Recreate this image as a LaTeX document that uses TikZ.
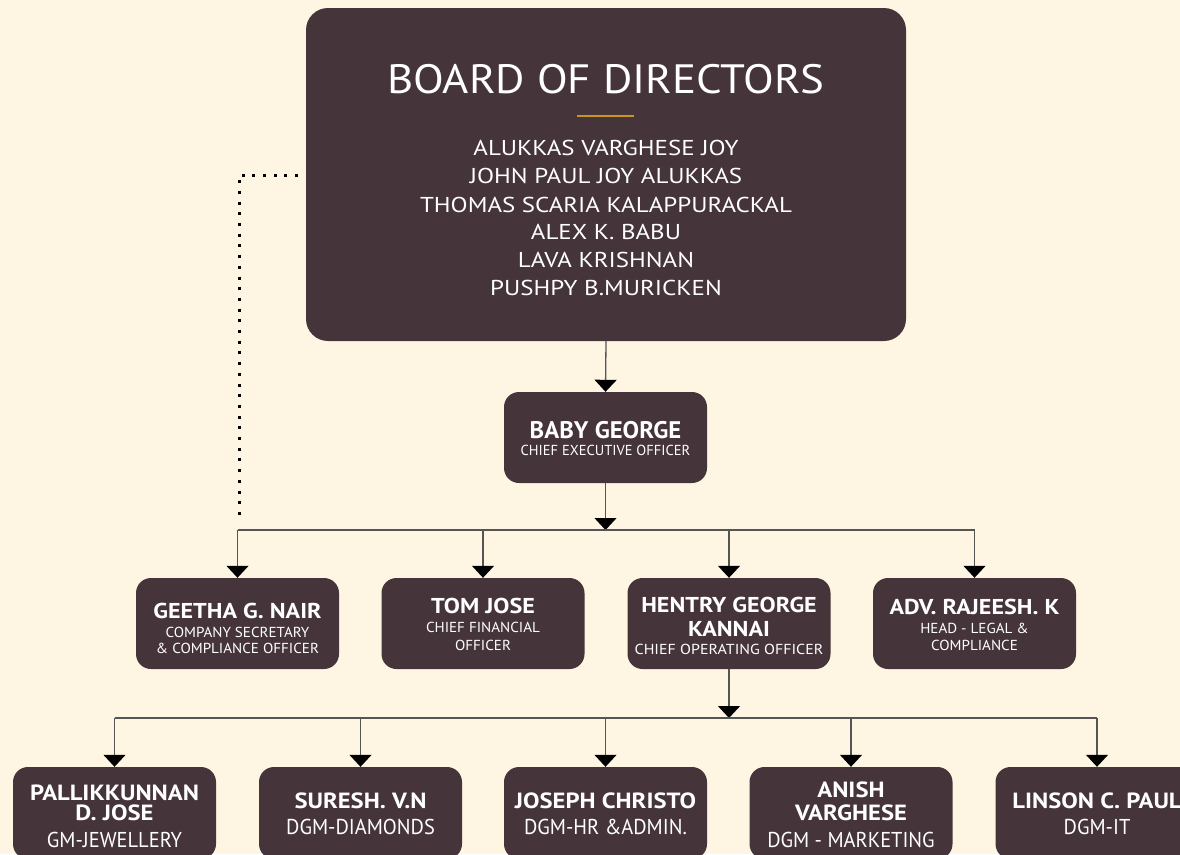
\documentclass[tikz,border=0pt]{standalone}
\usepackage{fontspec}
\setmainfont{PT Sans}
\newfontfamily\titlef[FakeStretch=1.095]{PT Sans}
\newfontfamily\bnmf[FakeStretch=1.16]{PT Sans}
\newfontfamily\nmf[FakeStretch=1.12]{PT Sans}
\newfontfamily\ceof[FakeStretch=1.03]{PT Sans}
\newfontfamily\subf[FakeStretch=1.04]{PT Sans}
\newfontfamily\copf[FakeStretch=1.10]{PT Sans}
\newfontfamily\subthreef[FakeStretch=0.95]{PT Sans}
\usetikzlibrary{arrows.meta}
\definecolor{bg}{HTML}{FEF6E2}
\definecolor{boxc}{HTML}{45343A}
\definecolor{gold}{HTML}{C8961E}
\definecolor{linec}{HTML}{555555}
\newcommand\fs[1]{\fontsize{#1}{#1}\selectfont}
\begin{document}
\begin{tikzpicture}[x=1pt,y=-1pt,
  box/.style={fill=boxc, rounded corners=15pt, draw=none, minimum width=203pt, minimum height=91pt, inner sep=0pt},
  tx/.style={text=white, anchor=base, inner sep=0pt},
  conn/.style={draw=linec, line width=1.3pt},
  arr/.style={conn, -{Triangle[width=22pt,length=12pt,fill=black,color=black]}},
  dots/.style={draw=black, line width=3pt, dash pattern=on 3pt off 7.7pt},
  ttl/.style={tx, font=\titlef\fs{41}},
  bnm/.style={tx, font=\bnmf\fs{21.5}},
  nm/.style={tx, font=\nmf\bfseries\fs{21.5}},
  sub/.style={tx, font=\subf\fs{14.5}},
  nm3/.style={tx, font=\nmf\bfseries\fs{22}},
  sub3/.style={tx, font=\subthreef\fs{21.5}},
]
\useasboundingbox (0,0) rectangle (1180,854);
\fill[bg] (0,0) rectangle (1180,854);
\clip (0,0) rectangle (1180,854);

% boxes
\node[box, rounded corners=22pt, minimum width=600pt, minimum height=333pt] (board) at (606,174.5) {};
\node[box] (ceo) at (605.5,437.5) {};
\node[box] (geetha) at (237.5,623.5) {};
\node[box] (tom) at (483,623.5) {};
\node[box] (hentry) at (729,623.5) {};
\node[box] (rajeesh) at (974.5,623.5) {};
\node[box, minimum height=92pt] (pall) at (114.5,813) {};
\node[box, minimum height=92pt] (suresh) at (360.5,813) {};
\node[box, minimum height=92pt] (joseph) at (605.5,813) {};
\node[box, minimum height=92pt] (anish) at (851,813) {};
\node[box, minimum height=92pt] (linson) at (1097,813) {};

% board text
\node[ttl] (bt) at (606,93) {BOARD OF DIRECTORS};
\draw[gold, line width=1.5pt] (577,116) -- (634,116);
\node[bnm] (b1) at (606,155) {ALUKKAS VARGHESE JOY};
\node[bnm] (b2) at (606,183) {JOHN PAUL JOY ALUKKAS};
\node[bnm] (b3) at (606,212) {THOMAS SCARIA KALAPPURACKAL};
\node[bnm] (b4) at (606,239) {ALEX K. BABU};
\node[bnm] (b5) at (606,267) {LAVA KRISHNAN};
\node[bnm] (b6) at (606,295) {PUSHPY B.MURICKEN};

% ceo
\node[tx, font=\ceof\bfseries\fs{24}] (c1) at (605.5,438) {BABY GEORGE};
\node[tx, font=\fs{14.5}] (c2) at (605.5,455) {CHIEF EXECUTIVE OFFICER};

% level 2
\node[nm] (g1) at (237.5,618) {GEETHA G. NAIR};
\node[sub] (g2) at (237.5,637) {COMPANY SECRETARY};
\node[sub] (g3) at (237.5,653) {\& COMPLIANCE OFFICER};
\node[nm] (t1) at (483,613) {TOM JOSE};
\node[sub] (t2) at (483,632.5) {CHIEF FINANCIAL};
\node[sub] (t3) at (483,650) {OFFICER};
\node[nm] (h1) at (729,612) {HENTRY GEORGE};
\node[nm] (h2) at (729,636) {KANNAI};
\node[tx, font=\copf\fs{14.5}] (h3) at (729,654) {CHIEF OPERATING OFFICER};
\node[nm] (r1) at (974.5,614) {ADV. RAJEESH. K};
\node[sub] (r2) at (974.5,633) {HEAD - LEGAL \&};
\node[sub] (r3) at (974.5,650) {COMPLIANCE};

% level 3
\node[nm3] (p1) at (114.5,800) {PALLIKKUNNAN};
\node[nm3] (p2) at (114.5,820) {D. JOSE};
\node[sub3] (p3) at (114.5,847) {GM-JEWELLERY};
\node[nm3] (s1) at (360.5,808) {SURESH. V.N};
\node[sub3] (s2) at (360.5,834) {DGM-DIAMONDS};
\node[nm3] (j1t) at (605.5,808) {JOSEPH CHRISTO};
\node[sub3] (j2t) at (605.5,834) {DGM-HR \&ADMIN.};
\node[nm3] (a1) at (851,797) {ANISH};
\node[nm3] (a2) at (851,820) {VARGHESE};
\node[sub3] (a3) at (851,847) {DGM - MARKETING};
\node[nm3] (l1) at (1097,808) {LINSON C. PAUL};
\node[sub3] (l2) at (1097,834) {DGM-IT};

% connectors
\draw[arr] (board.south) -- (ceo.north);
\coordinate (hub1) at (ceo.south |- 0,530);
\draw[arr] (ceo.south) -- (hub1);
\draw[conn] (geetha.north |- hub1) -- (rajeesh.north |- hub1);
\foreach \n in {geetha,tom,hentry,rajeesh} \draw[arr] (\n.north |- hub1) -- (\n.north);

\coordinate (hub2) at (hentry.south |- 0,718);
\draw[arr] (hentry.south) -- (hub2);
\draw[conn] (pall.north |- hub2) -- (linson.north |- hub2);
\foreach \n in {pall,suresh,joseph,anish,linson} \draw[arr] (\n.north |- hub2) -- (\n.north);

% dotted link
\coordinate (dA) at (298,175);
\coordinate (dB) at (239,521);
\draw[dots] (dA) -| (dB);
\end{tikzpicture}
\end{document}
